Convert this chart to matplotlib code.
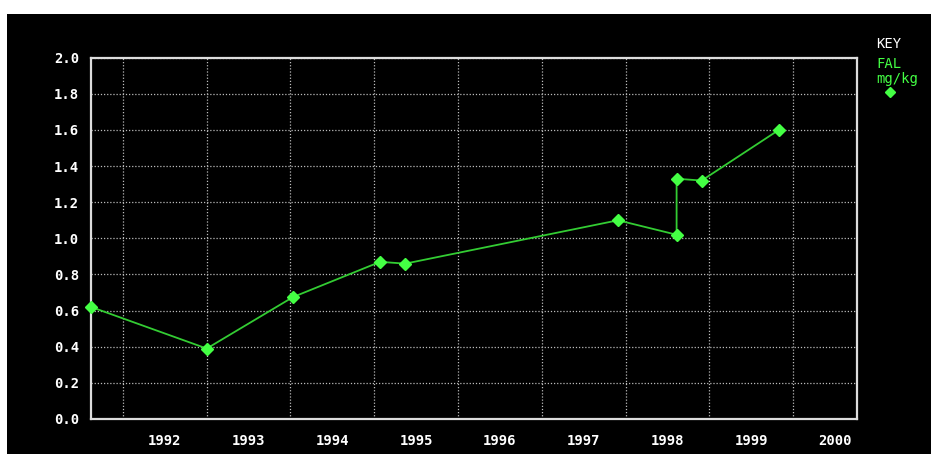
import matplotlib
matplotlib.use("Agg")
import matplotlib.pyplot as plt
from matplotlib.patches import Rectangle
from matplotlib.ticker import FixedLocator, NullFormatter, FixedFormatter

# Data (decimal year, mg/kg)
years = [1991.62, 1993.00, 1994.03, 1995.07, 1995.37, 1997.91, 1998.61, 1998.61, 1998.91, 1999.83]
fal = [0.62, 0.39, 0.675, 0.87, 0.86, 1.10, 1.02, 1.33, 1.32, 1.60]
year_labels = ["1992", "1993", "1994", "1995", "1996", "1997", "1998", "1999", "2000"]
y_ticks = [0.0, 0.2, 0.4, 0.6, 0.8, 1.0, 1.2, 1.4, 1.6, 1.8, 2.0]

W, H = 931, 454
fig = plt.figure(figsize=(W / 100, H / 100), dpi=100, facecolor="white")
fig.patches.append(Rectangle((7 / W, 0), 1, 1 - 14 / H, transform=fig.transFigure,
                             facecolor="black", edgecolor="none", zorder=-10))

ax = fig.add_axes([91 / W, (H - 419) / H, (857 - 91) / W, (419 - 57.7) / H])
ax.set_facecolor("black")
ax.set_xlim(1991.618, 2000.764)
ax.set_ylim(0, 2.0)

grid_years = list(range(1992, 2001))
ax.xaxis.set_major_locator(FixedLocator(grid_years))
ax.xaxis.set_major_formatter(NullFormatter())
ax.xaxis.set_minor_locator(FixedLocator([y + 0.5 for y in grid_years]))
ax.xaxis.set_minor_formatter(FixedFormatter(year_labels))
ax.set_yticks(y_ticks)
ax.set_yticklabels([f"{v:.1f}" for v in y_ticks])

ax.tick_params(axis="both", which="both", length=0, colors="white", labelsize=10)
ax.tick_params(axis="x", which="minor", pad=11)
ax.tick_params(axis="y", pad=8.5)
for lab in ax.get_xticklabels(minor=True) + ax.get_yticklabels():
    lab.set_fontfamily("DejaVu Sans Mono")
    lab.set_fontweight("bold")
    lab.set_color("white")

ax.grid(True, which="major", color="#bbbbbb", linestyle=(0, (1, 1.5)), linewidth=0.9)
for s in ax.spines.values():
    s.set_color("#dddddd")
    s.set_linewidth(1.6)

ax.plot(years, fal, color="#33cc33", linewidth=1.3, marker="D", markersize=6.5,
        markerfacecolor="#44ff44", markeredgecolor="#44ff44", clip_on=False, zorder=5)

fig.text(876 / W, 1 - 44 / H, "KEY", color="white", fontsize=10, va="center",
         ha="left", family="DejaVu Sans Mono")
fig.text(876 / W, 1 - 64 / H, "FAL", color="#44ff44", fontsize=10, va="center",
         ha="left", family="DejaVu Sans Mono")
fig.text(876 / W, 1 - 79 / H, "mg/kg", color="#44ff44", fontsize=10, va="center",
         ha="left", family="DejaVu Sans Mono")
fig.lines.append(plt.Line2D([890 / W], [1 - 92 / H], transform=fig.transFigure,
                            marker="D", markersize=5.5, color="#44ff44", linestyle="none"))

fig.savefig("out.png", dpi=100, facecolor=fig.get_facecolor())
